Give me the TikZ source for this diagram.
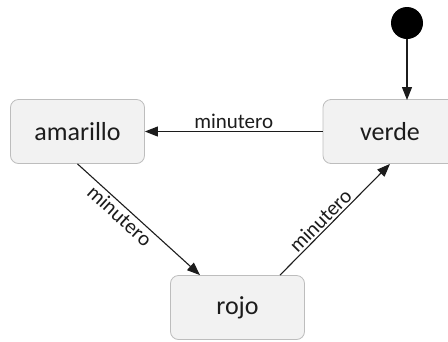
\documentclass[tikz,border=0pt]{standalone}
\usepackage{fontspec}
\setmainfont{Carlito}
\usetikzlibrary{arrows.meta}
\definecolor{boxfill}{HTML}{F2F2F2}
\definecolor{boxline}{HTML}{BDBDBD}
\definecolor{ink}{HTML}{1C1C1C}
\begin{document}
\begin{tikzpicture}[x=1pt,y=-1pt,
  state/.style={draw=boxline, fill=boxfill, rounded corners=8pt, line width=0.8pt,
    minimum width=134pt, minimum height=64pt, font=\fontsize{26}{30}\selectfont, text=ink},
  trans/.style={draw=ink, line width=1.1pt, -{Triangle[length=13pt,width=10pt]}},
  lbl/.style={font=\fontsize{21}{24}\selectfont, text=ink, inner sep=2pt}]
  \useasboundingbox (0,0) rectangle (448,341);
  \begin{scope}
    \clip (0,0) rectangle (448,341);
    % states
    \node[state] (amarillo) at (77.5,131.5) {amarillo};
    \node[state] (verde) at (390,131.5) {verde};
    \node[state] (rojo) at (237.5,307.5) {rojo};
    % initial pseudo-state
    \node[circle, fill=black, minimum size=32pt, inner sep=0pt] (init) at (407,23) {};
    \coordinate (vtop) at (407,100);
  \end{scope}
  % transitions
  \draw[trans] (init) -- (vtop);
  \draw[trans] (verde.west) -- node[lbl, above] {minutero} (amarillo.east);
  \draw[trans] (amarillo.south) -- node[lbl, sloped, below, pos=0.4] {minutero} ([xshift=-37.5pt]rojo.north);
  \draw[trans] ([xshift=42.5pt]rojo.north) -- node[lbl, sloped, above, pos=0.43] {minutero} (verde.south);
\end{tikzpicture}
\end{document}
